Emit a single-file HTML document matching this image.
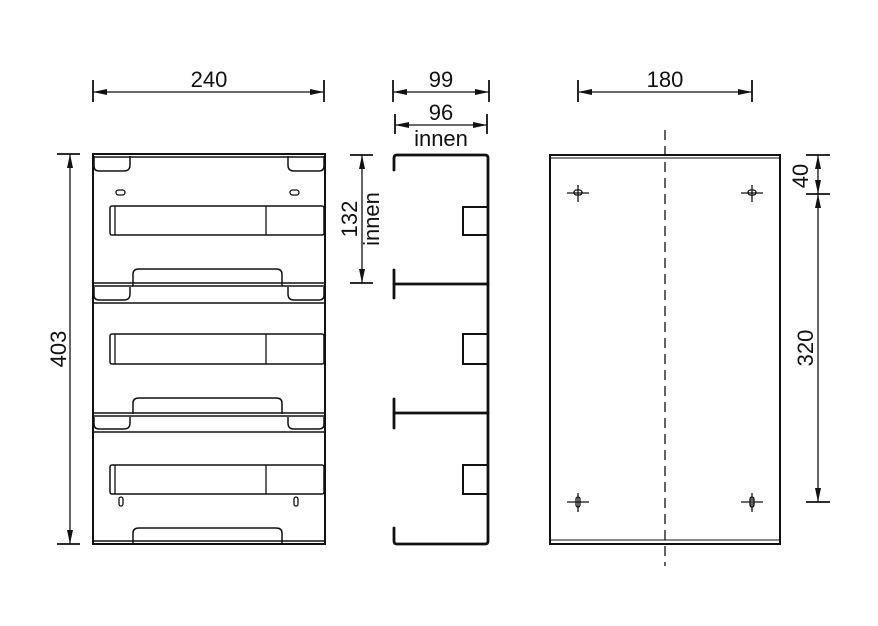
<!DOCTYPE html>
<html><head><meta charset="utf-8"><style>
html,body{margin:0;padding:0;background:#fff;}
svg{display:block;}
text{font-family:"Liberation Sans",sans-serif;font-size:22px;fill:#111;}
</style></head><body>
<svg width="878" height="626" viewBox="0 0 878 626" xmlns="http://www.w3.org/2000/svg">
<defs>
<marker id="a" markerWidth="14" markerHeight="8" refX="14" refY="4" orient="auto" markerUnits="userSpaceOnUse"><path d="M0,1 L14,4 L0,7 Z" fill="#111"/></marker>
<marker id="b" markerWidth="14" markerHeight="8" refX="0" refY="4" orient="auto" markerUnits="userSpaceOnUse"><path d="M14,1 L0,4 L14,7 Z" fill="#111"/></marker>
</defs>
<g stroke="#111" fill="none" stroke-width="1.3">
<!-- 240 dim -->
<line x1="93" y1="80" x2="93" y2="102" stroke-width="1.8"/><line x1="324" y1="80" x2="324" y2="102" stroke-width="1.8"/>
<line x1="93" y1="92" x2="324" y2="92" marker-start="url(#b)" marker-end="url(#a)"/>
<!-- 403 dim -->
<line x1="57" y1="154" x2="80" y2="154" stroke-width="1.8"/><line x1="57" y1="544" x2="80" y2="544" stroke-width="1.8"/>
<line x1="70" y1="154" x2="70" y2="544" marker-start="url(#b)" marker-end="url(#a)"/>

<!-- front view -->
<rect x="93" y="154" width="232" height="390" stroke-width="2"/>
<line x1="93" y1="157" x2="325" y2="157" stroke-width="1.5"/>
<!-- top tabs -->
<path d="M94,156 V166 Q94,171 99,171 H124 Q130,171 130,165 V156" stroke-width="1.5"/>
<path d="M324,156 V166 Q324,171 319,171 H294 Q288,171 288,165 V156" stroke-width="1.5"/>
<rect x="116" y="190" width="9" height="5" rx="2.5"/><rect x="290" y="190" width="9" height="5" rx="2.5"/>
<!-- module 1 -->
<rect x="110" y="206" width="214" height="29" rx="2" stroke-width="1.5"/><line x1="115" y1="206" x2="115" y2="235"/><line x1="266" y1="206" x2="266" y2="235"/>
<!-- divider 1 -->
<path d="M133,286 V274 Q133,269 139,269 H276 Q282,269 282,274 V286" stroke-width="1.5"/>
<line x1="93" y1="283" x2="325" y2="283" stroke-width="1.5"/><line x1="93" y1="286" x2="325" y2="286" stroke-width="1.5"/>
<path d="M94,287 V295 Q94,300 99,300 H124 Q130,300 130,294 V287" stroke-width="1.5"/>
<path d="M324,287 V295 Q324,300 319,300 H294 Q288,300 288,294 V287" stroke-width="1.5"/>
<line x1="93" y1="303" x2="325" y2="303" stroke-width="1.5"/>
<!-- module 2 -->
<rect x="110" y="334" width="214" height="30" rx="2" stroke-width="1.5"/><line x1="115" y1="334" x2="115" y2="364"/><line x1="266" y1="334" x2="266" y2="364"/>
<!-- divider 2 -->
<path d="M133,414 V403 Q133,398 139,398 H276 Q282,398 282,403 V414" stroke-width="1.5"/>
<line x1="93" y1="413" x2="325" y2="413" stroke-width="1.5"/><line x1="93" y1="416" x2="325" y2="416" stroke-width="1.5"/>
<path d="M94,417 V424 Q94,429 99,429 H124 Q130,429 130,423 V417" stroke-width="1.5"/>
<path d="M324,417 V424 Q324,429 319,429 H294 Q288,429 288,423 V417" stroke-width="1.5"/>
<line x1="93" y1="432" x2="325" y2="432" stroke-width="1.5"/>
<!-- module 3 -->
<rect x="110" y="465" width="214" height="29" rx="2" stroke-width="1.5"/><line x1="115" y1="465" x2="115" y2="494"/><line x1="266" y1="465" x2="266" y2="494"/>
<rect x="119" y="497" width="4" height="9" rx="2"/><rect x="294" y="497" width="4" height="9" rx="2"/>
<path d="M133,543 V533 Q133,528 139,528 H276 Q282,528 282,533 V543" stroke-width="1.5"/>
<line x1="93" y1="541" x2="325" y2="541" stroke-width="1.5"/>

<!-- side dims -->
<line x1="393" y1="80" x2="393" y2="102" stroke-width="1.8"/><line x1="489" y1="80" x2="489" y2="102" stroke-width="1.8"/>
<line x1="393" y1="92" x2="489" y2="92" marker-start="url(#b)" marker-end="url(#a)"/>
<line x1="395" y1="114" x2="395" y2="134" stroke-width="1.8"/><line x1="487" y1="114" x2="487" y2="134" stroke-width="1.8"/>
<line x1="395" y1="125" x2="487" y2="125" marker-start="url(#b)" marker-end="url(#a)"/>
<line x1="350" y1="155" x2="373" y2="155" stroke-width="1.8"/><line x1="350" y1="283" x2="373" y2="283" stroke-width="1.8"/>
<line x1="362" y1="155" x2="362" y2="283" marker-start="url(#b)" marker-end="url(#a)"/>
<!-- side view -->
<g stroke-width="2.8" stroke-linecap="round">
<path d="M394,170 V158 Q394,155 397,155 H485 Q488,155 488,158 V541 Q488,544 485,544 H397 Q394,544 394,541 V528"/>
<line x1="394" y1="270" x2="394" y2="298"/><line x1="394" y1="284" x2="488" y2="284"/>
<line x1="394" y1="399" x2="394" y2="428"/><line x1="394" y1="413" x2="488" y2="413"/>
</g>
<g stroke-width="2">
<path d="M488,207 H463 V235 H488"/>
<path d="M488,334 H463 V364 H488"/>
<path d="M488,465 H463 V494 H488"/>
</g>

<!-- back view -->
<line x1="578" y1="80" x2="578" y2="102" stroke-width="1.8"/><line x1="752" y1="80" x2="752" y2="102" stroke-width="1.8"/>
<line x1="578" y1="92" x2="752" y2="92" marker-start="url(#b)" marker-end="url(#a)"/>
<rect x="550" y="155" width="230" height="389" stroke-width="2"/>
<line x1="550" y1="158" x2="780" y2="158" stroke-width="1"/>
<line x1="550" y1="540" x2="780" y2="540" stroke-width="1"/>
<line x1="665" y1="130" x2="665" y2="566" stroke-dasharray="10,6"/>
<g>
<line x1="567" y1="193" x2="589" y2="193"/><line x1="578" y1="185" x2="578" y2="202"/><rect x="574" y="190" width="8" height="5" rx="2.5"/>
<line x1="741" y1="193" x2="763" y2="193"/><line x1="752" y1="185" x2="752" y2="202"/><rect x="748" y="190" width="8" height="5" rx="2.5"/>
<line x1="567" y1="502" x2="589" y2="502"/><line x1="578" y1="493" x2="578" y2="512"/><rect x="576" y="497" width="4" height="10" rx="2"/>
<line x1="741" y1="502" x2="763" y2="502"/><line x1="752" y1="493" x2="752" y2="512"/><rect x="750" y="497" width="4" height="10" rx="2" fill="#666"/>
</g>
<line x1="806" y1="155" x2="830" y2="155" stroke-width="1.8"/><line x1="806" y1="194" x2="830" y2="194" stroke-width="1.8"/><line x1="806" y1="502" x2="830" y2="502" stroke-width="1.8"/>
<line x1="818" y1="155" x2="818" y2="194" marker-start="url(#b)" marker-end="url(#a)"/>
<line x1="818" y1="194" x2="818" y2="502" marker-start="url(#b)" marker-end="url(#a)"/>
</g>
<text x="209" y="87" text-anchor="middle">240</text>
<text transform="translate(66,349) rotate(-90)" text-anchor="middle">403</text>
<text x="441" y="87" text-anchor="middle">99</text>
<text x="441" y="120" text-anchor="middle">96</text>
<text x="441" y="146" text-anchor="middle">innen</text>
<text transform="translate(357,219) rotate(-90)" text-anchor="middle">132</text>
<text transform="translate(379,219) rotate(-90)" text-anchor="middle">innen</text>
<text x="665" y="87" text-anchor="middle">180</text>
<text transform="translate(808,176) rotate(-90)" text-anchor="middle">40</text>
<text transform="translate(813,348) rotate(-90)" text-anchor="middle">320</text>
</svg>
</body></html>
